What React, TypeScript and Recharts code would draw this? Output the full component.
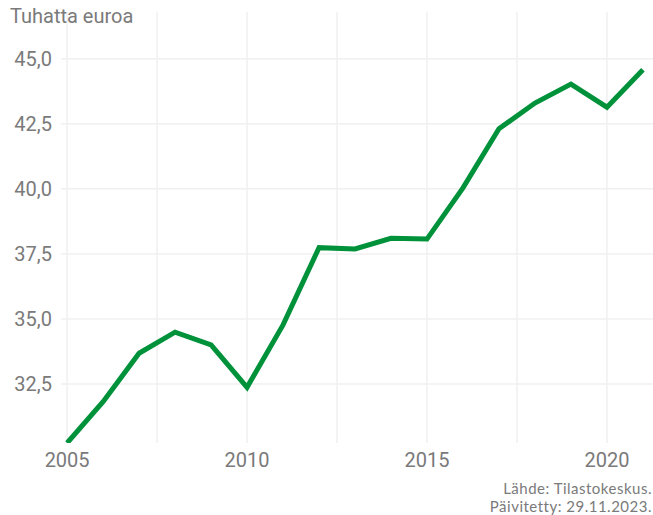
import React from "react";
import { LineChart, Line, XAxis, YAxis, ReferenceLine } from "recharts";

// vuosittaiset arvot, tuhatta euroa
const years = [
  2005, 2006, 2007, 2008, 2009, 2010, 2011, 2012, 2013, 2014, 2015, 2016,
  2017, 2018, 2019, 2020, 2021,
];
const values = [
  30.23, 31.82, 33.68, 34.49, 34.0, 32.37, 34.77, 37.74, 37.69, 38.1, 38.07,
  40.04, 42.31, 43.3, 44.03, 43.14, 44.58,
];
const xTicks = [2005, 2007.5, 2010, 2012.5, 2015, 2017.5, 2020];
const yTicks = [32.5, 35, 37.5, 40, 42.5, 45];

const data = years.map((year, i) => ({ year, value: values[i] }));

const grey = "#7a7a7a";
const gridColor = "#f0f0f0";

const App: React.FC = () => {
  return (
    <div
      style={{
        position: "absolute",
        left: 0,
        top: 0,
        width: 653,
        height: 515,
        background: "#fff",
        fontFamily: "Roboto, sans-serif",
      }}
    >
      <LineChart
        width={653}
        height={515}
        data={data}
        margin={{ top: 12, right: 0, left: 0, bottom: 0 }}
      >
        <XAxis
          dataKey="year"
          type="number"
          domain={[2004.83, 2021.28]}
          ticks={xTicks}
          allowDataOverflow
          axisLine={false}
          tickLine={false}
          tickSize={0}
          tickMargin={10}
          tickFormatter={(v: number) => (v % 5 === 0 ? String(v) : "")}
          tick={{ fill: grey, fontSize: 20 }}
          height={72}
        />
        <YAxis
          type="number"
          domain={[30.23, 46.8]}
          ticks={yTicks}
          allowDataOverflow
          axisLine={false}
          tickLine={false}
          tickSize={0}
          tickMargin={9}
          width={61}
          tickFormatter={(v: number) => v.toFixed(1).replace(".", ",")}
          tick={{ fill: grey, fontSize: 20 }}
        />
        {/* ruudukko */}
        {yTicks.map((t) => (
          <ReferenceLine key={"y" + t} y={t} stroke={gridColor} strokeWidth={1.5} />
        ))}
        {xTicks.map((t) => (
          <ReferenceLine key={"x" + t} x={t} stroke={gridColor} strokeWidth={1.5} />
        ))}
        <Line
          type="linear"
          dataKey="value"
          stroke="#00923a"
          strokeWidth={5}
          dot={false}
          isAnimationActive={false}
        />
      </LineChart>
      <div
        style={{
          position: "absolute",
          left: 10,
          top: 4,
          fontSize: 20,
          color: grey,
        }}
      >
        Tuhatta euroa
      </div>
      <div
        style={{
          position: "absolute",
          right: 1,
          top: 479,
          fontSize: 15,
          lineHeight: "18px",
          letterSpacing: 0.5,
          color: grey,
          textAlign: "right",
          fontFamily: "Lato, sans-serif",
        }}
      >
        Lähde: Tilastokeskus.
        <br />
        Päivitetty: 29.11.2023.
      </div>
    </div>
  );
};

export default App;
